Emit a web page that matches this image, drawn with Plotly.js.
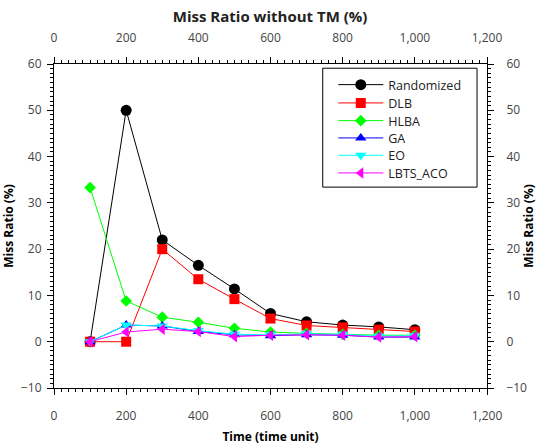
<!DOCTYPE html>
<html>
<head>
<meta charset="utf-8">
<script src="https://cdn.plot.ly/plotly-3.0.1.min.js"></script>
<style>html,body{margin:0;padding:0;background:#fff;}#chart{width:537px;height:445px;}</style>
</head>
<body>
<div id="chart"></div>
<script>
const time = [100, 200, 300, 400, 500, 600, 700, 800, 900, 1000];
const randomized = [0, 50.0, 22.0, 16.5, 11.4, 6.1, 4.3, 3.6, 3.2, 2.6];
const dlb        = [0, 0, 20.0, 13.5, 9.2, 5.0, 3.5, 3.1, 2.6, 2.2];
const hlba       = [33.3, 8.8, 5.3, 4.2, 2.9, 2.1, 1.8, 1.6, 1.4, 1.4];
const ga         = [0, 3.6, 3.4, 2.2, 1.5, 1.3, 1.5, 1.4, 1.0, 1.0];
const eo         = [0, 3.6, 3.4, 2.4, 1.6, 1.5, 1.7, 1.6, 1.2, 1.3];
const lbtsAco    = [0, 2.1, 2.7, 2.2, 1.1, 1.4, 1.5, 1.4, 1.0, 1.1];

const seriesNames = ['Randomized', 'DLB', 'HLBA', 'GA', 'EO', 'LBTS_ACO'];
const seriesData = [randomized, dlb, hlba, ga, eo, lbtsAco];
const colors = ['#000000', '#ff0000', '#00ff00', '#0000ff', '#00ffff', '#ff00ff'];
const symbols = ['circle', 'square', 'diamond', 'triangle-up', 'triangle-down', 'triangle-left'];
const sizes = [11, 10, 9, 10, 10, 10];
const legendIds = ['legend', 'legend2', 'legend3', 'legend4', 'legend5', 'legend6'];

const traces = seriesNames.map((n, i) => ({
  x: time, y: seriesData[i], name: n, type: 'scatter', mode: 'lines+markers',
  line: {color: colors[i], width: 1},
  marker: {color: colors[i], symbol: symbols[i], size: sizes[i]},
  xaxis: 'x', yaxis: 'y', legend: legendIds[i]
}));

const tickFont = {family: 'Open Sans, sans-serif', size: 12, color: '#444'};
const xCommon = {
  range: [0, 1200], dtick: 200, tick0: 0, showgrid: false, zeroline: false,
  showline: true, linecolor: '#000', linewidth: 1, ticks: 'outside', ticklen: 6,
  tickcolor: '#000', tickwidth: 1, separatethousands: true, tickfont: tickFont,
  minor: {dtick: 20, ticks: 'outside', ticklen: 3, tickcolor: '#000', showgrid: false}
};
const yCommon = {
  range: [-10, 60], dtick: 10, tick0: 0, showgrid: false, zeroline: false,
  showline: true, linecolor: '#000', linewidth: 1, ticks: 'outside', ticklen: 6,
  tickcolor: '#000', tickwidth: 1, tickfont: tickFont,
  minor: {dtick: 1, ticks: 'outside', ticklen: 3, tickcolor: '#000', showgrid: false}
};
const axisTitleFont = {family: 'Open Sans, sans-serif', size: 12, color: '#000', weight: 'bold'};

const layout = {
  width: 537, height: 445,
  margin: {l: 54, r: 50, t: 64, b: 57},
  paper_bgcolor: '#fff', plot_bgcolor: '#fff',
  font: {family: 'Open Sans, sans-serif'},
  title: {text: '<b>Miss Ratio without TM (%)</b>', x: 0.503, xanchor: 'center', y: 0.962, yanchor: 'middle',
          font: {family: 'Open Sans, sans-serif', size: 15, color: '#222'}},
  xaxis: Object.assign({}, xCommon, {side: 'bottom', ticklabelstandoff: 11,
          title: {text: '<b>Time (time unit)</b>', font: axisTitleFont, standoff: 10}}),
  xaxis2: Object.assign({}, xCommon, {side: 'top', overlaying: 'x', matches: 'x', ticklabelstandoff: 10}),
  yaxis: Object.assign({}, yCommon, {side: 'left', ticklabelstandoff: 3,
          title: {text: '<b>Miss Ratio (%)</b>', font: axisTitleFont, standoff: 8}}),
  yaxis2: Object.assign({}, yCommon, {side: 'right', overlaying: 'y', ticklabelstandoff: 10,
          title: {text: '<b>Miss Ratio (%)</b>', font: axisTitleFont, standoff: 19}}),
  showlegend: true,
  shapes: [{type: 'rect', xref: 'paper', yref: 'paper', x0: 0.6206, x1: 0.977, y0: 0.620, y1: 0.987,
            line: {color: '#000', width: 1}, fillcolor: 'rgba(0,0,0,0)', layer: 'above'}]
};

// one single-item legend per series, so the entries can sit 17.6 px apart like the reference
const legendCentersPx = [85, 103.3, 121, 138.3, 155.7, 173.3];
legendIds.forEach((id, i) => {
  layout[id] = {x: 0.645, y: (388 - legendCentersPx[i]) / 324, xanchor: 'left', yanchor: 'middle',
                bgcolor: 'rgba(0,0,0,0)', borderwidth: 0, itemwidth: 45,
                font: {family: 'Open Sans, sans-serif', size: 12.5, color: '#222'}};
});

// invisible trace to anchor the top and right axes
traces.push({x: [0], y: [0], xaxis: 'x2', yaxis: 'y2', mode: 'markers', marker: {opacity: 0}, showlegend: false, hoverinfo: 'skip'});

Plotly.newPlot('chart', traces, layout, {displayModeBar: false, staticPlot: true});
</script>
</body>
</html>
